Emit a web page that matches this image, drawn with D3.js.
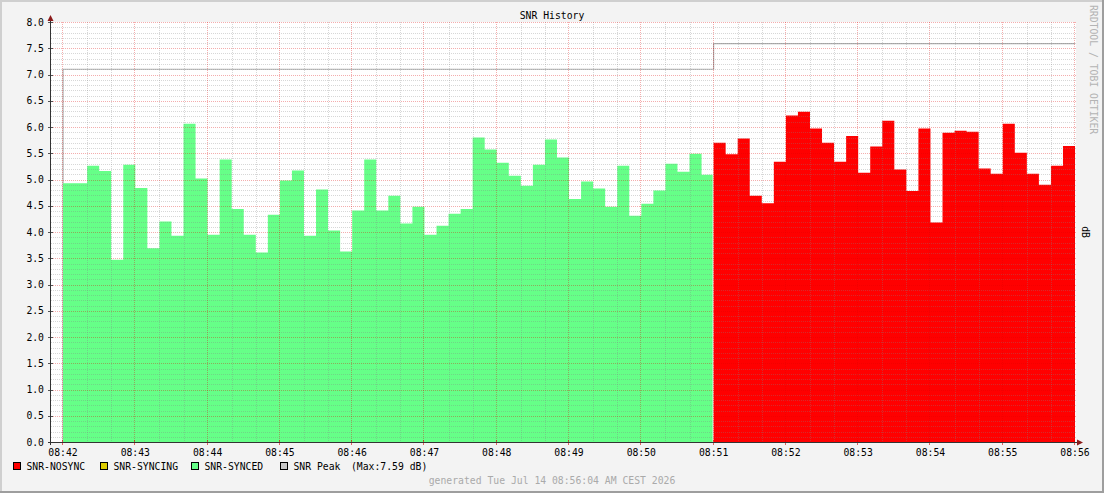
<!DOCTYPE html>
<html><head><meta charset="utf-8">
<script src="https://cdn.jsdelivr.net/npm/d3@7"></script>
<style>
html,body{margin:0;padding:0;background:#f3f3f3;}
svg{display:block;}
text{font-family:"DejaVu Sans Mono",monospace;font-size:9.75px;}
</style></head>
<body>
<svg id="chart" width="1104" height="493"></svg>
<script>
// ---- data ----
const chartTitle = "SNR History";
const dayStr = "2026-07-14";
const syncedStart = "08:42:00";   // first SNR-SYNCED sample
const nosyncStart = "08:51:00";   // first SNR-NOSYNC sample
const stepSeconds = 10;
const syncedSNR = [4.93,4.93,5.26,5.16,3.47,5.28,4.84,3.69,4.20,3.93,6.06,5.02,3.95,5.38,4.44,3.95,3.61,4.33,4.98,5.17,3.93,4.81,4.03,3.63,4.41,5.38,4.41,4.69,4.16,4.48,3.95,4.12,4.35,4.44,5.80,5.57,5.32,5.07,4.88,5.28,5.76,5.42,4.63,4.96,4.83,4.48,5.26,4.31,4.54,4.79,5.30,5.15,5.49,5.09];
const nosyncSNR = [5.70,5.48,5.78,4.69,4.55,5.34,6.22,6.29,5.97,5.70,5.34,5.83,5.13,5.63,6.12,5.19,4.78,5.97,4.18,5.89,5.93,5.91,5.21,5.11,6.06,5.51,5.11,4.90,5.26,5.64];
const peakTimes = ["08:42:00","08:51:00","08:56:00"];
const peakValues = [7.10, 7.59];
const domainTimes = ["08:41:49.6","08:56:00.8"];
const yTicks = [0,0.5,1,1.5,2,2.5,3,3.5,4,4.5,5,5.5,6,6.5,7,7.5,8];
const legendItems = [
  {label:"SNR-NOSYNC", color:"#ff0000"},
  {label:"SNR-SYNCING", color:"#ddcc00"},
  {label:"SNR-SYNCED", color:"#66ff88"},
  {label:"SNR Peak", color:"#c8c8c8"}
];
const peakNote = "(Max:7.59 dB)";
const yUnit = "dB";
const watermark = "RRDTOOL / TOBI OETIKER";
const footer = "generated Tue Jul 14 08:56:04 AM CEST 2026";

// ---- helpers ----
const parseT = s => {
  const [h,m,sec] = s.split(":");
  const d = new Date(dayStr + "T00:00:00");
  d.setHours(+h, +m, 0, 0);
  d.setMilliseconds(Math.round(parseFloat(sec)*1000));
  return d;
};
const addS = (d, s) => new Date(d.getTime() + s*1000);

const svg = d3.select("#chart");
const W = 1104, H = 493;
const plot = {left:50.5, right:1076, top:22, bottom:442};

const x = d3.scaleTime().domain(domainTimes.map(parseT)).range([plot.left, plot.right]);
const y = d3.scaleLinear().domain([0,8]).range([plot.bottom, plot.top]);

// background & frame
svg.append("rect").attr("width",W).attr("height",H).attr("fill","#f3f3f3");
svg.append("path").attr("d",`M1,${H} V1 H${W}`).attr("stroke","#cfcfcf").attr("stroke-width",2).attr("fill","none");
svg.append("path").attr("d",`M0,${H-1} H${W-1} V0`).attr("stroke","#9e9e9e").attr("stroke-width",2).attr("fill","none");

// canvas
svg.append("rect").attr("x",plot.left).attr("y",plot.top)
  .attr("width",plot.right-plot.left).attr("height",plot.bottom-plot.top).attr("fill","#ffffff");

// series -> points
function seriesPoints(startStr, vals){
  const t0 = parseT(startStr);
  const pts = vals.map((v,i)=>({t:addS(t0,i*stepSeconds), v}));
  pts.push({t:addS(t0, vals.length*stepSeconds), v:vals[vals.length-1]});
  return pts;
}
const area = d3.area().curve(d3.curveStepAfter)
  .x(d=>x(d.t)).y0(y(0)).y1(d=>y(d.v));

// peak line (with rise from zero at start)
const pk = peakValues.map((v,i)=>({t:parseT(peakTimes[i]), v}));
pk.push({t:parseT(peakTimes[peakTimes.length-1]), v:peakValues[peakValues.length-1]});
const pkLine = d3.line().curve(d3.curveStepAfter).x(d=>x(d.t)).y(d=>y(d.v));
svg.append("path").attr("d", `M${x(pk[0].t)},${y(0)}L` + pkLine(pk).slice(1))
  .attr("fill","none").attr("stroke","#b0b0b0").attr("stroke-width",1.2);

const synPts = seriesPoints(syncedStart, syncedSNR);
synPts[synPts.length-1].t = addS(synPts[synPts.length-1].t, -0.8);
svg.append("path").attr("d", area(synPts)).attr("fill","#66ff88");
svg.append("path").attr("d", area(seriesPoints(nosyncStart, nosyncSNR))).attr("fill","#ff0000");

// grid (drawn over data)
const g = svg.append("g").attr("shape-rendering","crispEdges");
const minorColor = "rgba(130,130,130,0.32)";
const majorColor = "rgba(220,0,0,0.32)";
const minorY = d3.range(0, 81).map(i=>i/10).filter(v=> Math.round(v*10)%5 !== 0);
g.selectAll(".hmin").data(minorY).join("line")
  .attr("x1",plot.left).attr("x2",plot.right)
  .attr("y1",d=>Math.round(y(d))+0.5).attr("y2",d=>Math.round(y(d))+0.5)
  .attr("stroke",minorColor).attr("stroke-dasharray","1,1");
const xMinor = d3.timeSecond.every(20).range(...x.domain()).filter(d=>d.getSeconds()!==0);
g.selectAll(".vmin").data(xMinor).join("line")
  .attr("x1",d=>Math.round(x(d))+0.5).attr("x2",d=>Math.round(x(d))+0.5)
  .attr("y1",plot.top).attr("y2",plot.bottom)
  .attr("stroke",minorColor).attr("stroke-dasharray","1,1");
g.selectAll(".hmaj").data(yTicks.filter(v=>v>0)).join("line")
  .attr("x1",plot.left).attr("x2",plot.right)
  .attr("y1",d=>Math.round(y(d))+0.5).attr("y2",d=>Math.round(y(d))+0.5)
  .attr("stroke",majorColor).attr("stroke-dasharray","1,1");
const xMajor = x.ticks(d3.timeMinute.every(1));
g.selectAll(".vmaj").data(xMajor).join("line")
  .attr("x1",d=>Math.round(x(d))-0.5).attr("x2",d=>Math.round(x(d))-0.5)
  .attr("y1",plot.top).attr("y2",plot.bottom)
  .attr("stroke",majorColor).attr("stroke-dasharray","1,1");

// ticks
g.selectAll(".xt").data(xMajor).join("line")
  .attr("x1",d=>Math.round(x(d))-0.5).attr("x2",d=>Math.round(x(d))-0.5)
  .attr("y1",plot.bottom-2).attr("y2",plot.bottom+3).attr("stroke","rgba(210,0,0,0.6)");
g.selectAll(".yt").data(yTicks).join("line")
  .attr("x1",plot.left-3).attr("x2",plot.left+2)
  .attr("y1",d=>Math.round(y(d))+0.5).attr("y2",d=>Math.round(y(d))+0.5)
  .attr("stroke","#555");

// axes
const axisColor = "#333";
const arrowColor = "#8b1a1a";
const ax = svg.append("g").attr("shape-rendering","crispEdges");
ax.append("line").attr("x1",plot.left-3).attr("x2",plot.right+4)
  .attr("y1",plot.bottom+0.5).attr("y2",plot.bottom+0.5).attr("stroke",axisColor);
ax.append("line").attr("x1",Math.floor(plot.left)+0.5).attr("x2",Math.floor(plot.left)+0.5)
  .attr("y1",plot.bottom+3).attr("y2",plot.top-3).attr("stroke",axisColor);
svg.append("path").attr("d",`M${plot.right+1},${plot.bottom-2.5} L${plot.right+7},${plot.bottom+0.5} L${plot.right+1},${plot.bottom+3.5}Z`).attr("fill",arrowColor);
svg.append("path").attr("d",`M${Math.floor(plot.left)-2.5},${plot.top-1} L${Math.floor(plot.left)+0.5},${plot.top-7} L${Math.floor(plot.left)+3.5},${plot.top-1}Z`).attr("fill",arrowColor);

// labels
svg.selectAll(".ylab").data(yTicks).join("text")
  .attr("x",44).attr("y",d=>y(d)+3.6).attr("text-anchor","end").attr("fill","#000")
  .text(d=>d.toFixed(1));
const fmt = d3.timeFormat("%H:%M");
svg.selectAll(".xlab").data(xMajor).join("text")
  .attr("x",d=>x(d)).attr("y",455.5).attr("text-anchor","middle").attr("fill","#000")
  .text(d=>fmt(d));

svg.append("text").attr("x",552).attr("y",19).attr("text-anchor","middle").attr("fill","#000").text(chartTitle);

svg.append("text").attr("transform","translate(1089.5,5) rotate(90)")
  .attr("fill","#b4b4b4").text(watermark);
svg.append("text").attr("transform","translate(1081.5,232) rotate(90)")
  .attr("text-anchor","middle").attr("fill","#000").text(yUnit);

// legend
const legendX = [13.5, 100.5, 191.5, 280.5];
const lg = svg.append("g");
legendItems.forEach((it,i)=>{
  lg.append("rect").attr("x",legendX[i]).attr("y",462.5).attr("width",7).attr("height",7)
    .attr("fill",it.color).attr("stroke","#000").attr("stroke-width",1);
  lg.append("text").attr("x",legendX[i]+13).attr("y",469.5).attr("fill","#000").text(it.label);
});
lg.append("text").attr("x",351).attr("y",469.5).attr("fill","#000").text(peakNote);

svg.append("text").attr("x",552).attr("y",484).attr("text-anchor","middle").attr("fill","#aaaaaa").text(footer);
</script>
</body></html>
